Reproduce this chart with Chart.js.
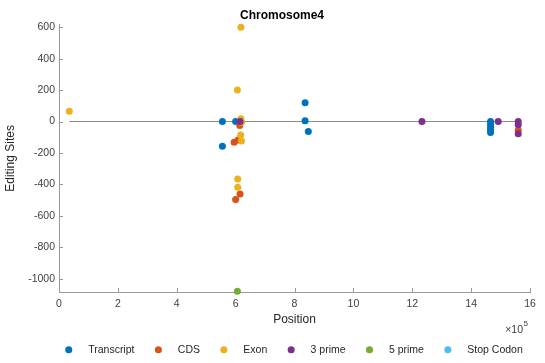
<!DOCTYPE html>
<html>
<head>
<meta charset="utf-8">
<script src="https://cdn.jsdelivr.net/npm/chart.js@4"></script>
<style>
  html, body { margin: 0; padding: 0; background: #fff; }
</style>
</head>
<body>
<canvas id="chr4" width="545" height="363"></canvas>
<script>
// Chromosome 4 editing sites, one scatter series per feature type.
// Positions are in bp (axis shows them as x10^5), editing sites are signed counts.

var seriesNames  = ['Transcript', 'CDS', 'Exon', '3 prime', '5 prime', 'Stop Codon'];
var seriesColors = ['#0072BD', '#D95319', '#EDB120', '#7E2F8E', '#77AC30', '#4DBEEE'];

var transcriptPos = [5.55e5, 5.55e5, 6.0e5, 8.36e5, 8.36e5, 8.47e5, 14.66e5, 14.66e5, 14.66e5, 14.66e5, 14.66e5];
var transcriptVal = [0, -158, 0, 120, 5, -64, 0, -18, -36, -54, -70];

var cdsPos = [6.14e5, 5.95e5, 6.08e5, 6.15e5, 6.0e5, 15.6e5];
var cdsVal = [-26, -132, -118, -462, -496, -55];

var exonPos = [0.35e5, 6.18e5, 6.06e5, 6.18e5, 6.2e5, 6.17e5, 6.2e5, 6.07e5, 6.07e5];
var exonVal = [65, 600, 200, 17, -5, -85, -124, -366, -418];

var threePrimePos = [6.15e5, 12.33e5, 14.92e5, 15.6e5, 15.6e5, 15.6e5];
var threePrimeVal = [0, 0, 0, 0, -20, -78];

var fivePrimePos = [6.06e5];
var fivePrimeVal = [-1080];

var stopCodonPos = [];
var stopCodonVal = [];

// grey zero line drawn across the data range
var zeroLinePos = [0.35e5, 15.6e5];
var zeroLineVal = [0, 0];

var xTicks = [0, 2, 4, 6, 8, 10, 12, 14, 16];   // x10^5
var yTicks = [-1000, -800, -600, -400, -200, 0, 200, 400, 600];

var allPos = [transcriptPos, cdsPos, exonPos, threePrimePos, fivePrimePos, stopCodonPos];
var allVal = [transcriptVal, cdsVal, exonVal, threePrimeVal, fivePrimeVal, stopCodonVal];

function toPoints(xs, ys) {
  return xs.map(function(x, i) { return { x: x, y: ys[i] }; });
}

var FONT = '"Liberation Sans", Arial, Helvetica, sans-serif';
Chart.defaults.font.family = FONT;

var datasets = seriesNames.map(function(name, i) {
  return {
    label: name,
    data: toPoints(allPos[i], allVal[i]),
    backgroundColor: seriesColors[i],
    borderColor: seriesColors[i],
    borderWidth: 0,
    pointRadius: 3.5,
    pointStyle: 'circle',
    clip: false,
    order: 10 - i          // later series painted on top, like MATLAB
  };
});
datasets.push({
  type: 'line',
  label: 'zero',
  data: toPoints(zeroLinePos, zeroLineVal),
  borderColor: '#8c8c8c',
  borderWidth: 1,
  pointRadius: 0,
  order: 20
});

// MATLAB-ish inward tick marks plus the x10^5 exponent label
var matlabAxes = {
  id: 'matlabAxes',
  beforeDatasetsDraw: function(chart) {
    var ctx = chart.ctx, a = chart.chartArea;
    var xs = chart.scales.x, ys = chart.scales.y;
    ctx.save();
    ctx.strokeStyle = '#9a9a9a';
    ctx.lineWidth = 1;
    ctx.beginPath();
    xs.ticks.forEach(function(t) {
      var px = Math.round(xs.getPixelForValue(t.value)) + 0.5;
      ctx.moveTo(px, a.bottom); ctx.lineTo(px, a.bottom - 4);
    });
    ys.ticks.forEach(function(t) {
      var py = Math.round(ys.getPixelForValue(t.value)) + 0.5;
      ctx.moveTo(a.left, py); ctx.lineTo(a.left + 4, py);
    });
    ctx.stroke();
    ctx.restore();
  },
  afterDraw: function(chart) {
    var ctx = chart.ctx, a = chart.chartArea;
    ctx.save();
    ctx.fillStyle = '#404040';
    ctx.textBaseline = 'middle';
    ctx.font = '10.5px ' + FONT;
    ctx.textAlign = 'right';
    ctx.fillText('\u00d710', a.right - 7, a.bottom + 38);
    ctx.font = '8px ' + FONT;
    ctx.textAlign = 'left';
    ctx.fillText('5', a.right - 6.5, a.bottom + 32);
    ctx.restore();
  }
};

new Chart(document.getElementById('chr4'), {
  type: 'scatter',
  data: { datasets: datasets },
  plugins: [matlabAxes],
  options: {
    responsive: false,
    animation: false,
    // negative right padding moves the full-width title centre to the right
    layout: { padding: { left: 0, right: -19, top: 0, bottom: -2 } },
    plugins: {
      tooltip: { enabled: false },
      title: {
        display: true,
        text: 'Chromosome4',
        color: '#000',
        font: { size: 12, weight: 'bold' },
        padding: { top: 8.5, bottom: 2 }
      },
      legend: {
        position: 'bottom',
        fullSize: false,
        labels: {
          usePointStyle: true,
          boxWidth: 5,
          boxHeight: 5,
          padding: 1,
          color: '#262626',
          font: { size: 10.5 },
          filter: function(item) { return item.datasetIndex < seriesNames.length; },
          sort: function(a, b) { return a.datasetIndex - b.datasetIndex; },
          generateLabels: function(chart) {
            var items = Chart.defaults.plugins.legend.labels.generateLabels(chart);
            return items.map(function(it) {
              var last = it.datasetIndex === seriesNames.length - 1;
              it.text = '    ' + it.text + (last ? '' : '       ');
              return it;
            });
          }
        }
      }
    },
    scales: {
      x: {
        type: 'linear',
        min: 0,
        max: 16e5,
        afterBuildTicks: function(s) {
          s.ticks = xTicks.map(function(v) { return { value: v * 1e5 }; });
        },
        afterFit: function(s) { s.height = 51.5; s.paddingLeft = 0; s.paddingRight = 15; },
        grid: { display: false, drawTicks: false },
        border: { display: true, color: '#9a9a9a' },
        ticks: {
          padding: 6,
          color: '#404040',
          font: { size: 10.5 },
          maxRotation: 0,
          callback: function(v) { return String(Math.round(v / 1e5)); }
        },
        title: {
          display: true,
          text: 'Position',
          color: '#262626',
          font: { size: 12 },
          padding: { top: 0, bottom: 17 }
        }
      },
      y: {
        min: -1085,
        max: 615,
        afterBuildTicks: function(s) {
          s.ticks = yTicks.map(function(v) { return { value: v }; });
        },
        afterFit: function(s) { s.width = 59; s.paddingTop = 0; s.paddingBottom = 0; },
        grid: { display: false, drawTicks: false },
        border: { display: true, color: '#9a9a9a' },
        ticks: {
          padding: 4,
          color: '#404040',
          font: { size: 10.5 },
          callback: function(v) { return String(v); }
        },
        title: {
          display: true,
          text: 'Editing Sites',
          color: '#262626',
          font: { size: 12 },
          padding: { top: 3, bottom: 0 }
        }
      }
    }
  }
});
</script>
</body>
</html>
